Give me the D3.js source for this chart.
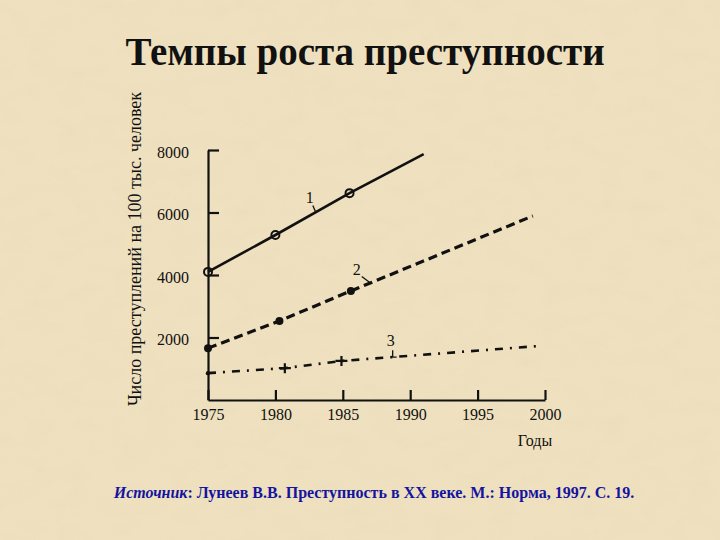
<!DOCTYPE html>
<html>
<head>
<meta charset="utf-8">
<script src="https://cdn.jsdelivr.net/npm/d3@7"></script>
<style>
  html, body { margin: 0; padding: 0; background: #ecdcb7; }
  svg { display: block; }
</style>
</head>
<body>
<div id="vis"></div>
<script>
//data----
const xTicks = [1975, 1980, 1985, 1990, 1995, 2000]
const yTicks = [2000, 4000, 6000, 8000]

// line 1 - solid, open circles
const years1 = [1975, 1980, 1985.5, 1991]
const values1 = [4100, 5280, 6620, 7870]
const markers1 = [true, true, true, false]

// line 2 - dashed, filled dots
const years2 = [1975, 1980.3, 1985.6, 1999.1]
const values2 = [1660, 2530, 3490, 5890]
const markers2 = [true, true, true, false]

// line 3 - dash-dot, crosses
const years3 = [1975, 1980.7, 1984.9, 1999.6]
const values3 = [860, 1020, 1250, 1730]
const markers3 = ["dot", "plus", "plus", null]

// series labels: number and the point on its line where the leader touches
const labelNames = ["1", "2", "3"]
const labelYears = [1983, 1987, 1988.7]
const labelValues = [6000, 3760, 1370]

const titleText = "Темпы роста преступности"
const yLabelText = "Число преступлений на 100 тыс. человек"
const xLabelText = "Годы"

//dimensions----
let dimensions = {
    width: 720,
    height: 540,
    margins: { left: 208, right: 175, top: 150, bottom: 140 },
}
dimensions.boundedwidth = dimensions.width - dimensions.margins.left - dimensions.margins.right
dimensions.boundedheight = dimensions.height - dimensions.margins.top - dimensions.margins.bottom

const serif = "'Liberation Serif', 'Times New Roman', serif"

//canvas----
const wrapper = d3.select("#vis")
    .append("svg")
    .attr("width", dimensions.width)
    .attr("height", dimensions.height)

// parchment texture
const defs = wrapper.append("defs")
const paper = defs.append("filter")
    .attr("id", "paper")
    .attr("x", 0).attr("y", 0).attr("width", "100%").attr("height", "100%")
paper.append("feTurbulence")
    .attr("type", "fractalNoise")
    .attr("baseFrequency", "0.035 0.06")
    .attr("numOctaves", 3)
    .attr("seed", 7)
paper.append("feColorMatrix")
    .attr("type", "matrix")
    .attr("values", "0 0 0 0 0.80  0 0 0 0 0.70  0 0 0 0 0.48  0 0 0 -0.9 0.55")

wrapper.append("rect")
    .attr("width", dimensions.width)
    .attr("height", dimensions.height)
    .attr("fill", "#efe1bf")
wrapper.append("rect")
    .attr("width", dimensions.width)
    .attr("height", dimensions.height)
    .attr("filter", "url(#paper)")
    .attr("opacity", 0.7)

const bounds = wrapper.append("g")
    .attr("transform", `translate(${dimensions.margins.left}, ${dimensions.margins.top})`)

//scales----
const xScale = d3.scaleLinear()
    .domain([1975, 2000])
    .range([0, dimensions.boundedwidth])

const yScale = d3.scaleLinear()
    .domain([0, 8000])
    .range([dimensions.boundedheight, 0])

//axes----
const xAxisgenerator = d3.axisBottom(xScale)
    .tickValues(xTicks)
    .tickFormat(d3.format("d"))
    .tickSizeInner(-10)
    .tickSizeOuter(0)
    .tickPadding(9)

const yAxisgenerator = d3.axisLeft(yScale)
    .tickValues(yTicks)
    .tickFormat(d3.format("d"))
    .tickSizeInner(-11)
    .tickSizeOuter(0)
    .tickPadding(19)

const xAxis = bounds.append("g")
    .attr("class", "x-axis")
    .attr("transform", `translate(0, ${dimensions.boundedheight})`)
    .call(xAxisgenerator)

const yAxis = bounds.append("g")
    .attr("class", "y-axis")
    .call(yAxisgenerator)

bounds.selectAll(".x-axis path, .y-axis path, .x-axis line, .y-axis line")
    .attr("stroke", "#111")
    .attr("stroke-width", 2.2)

bounds.selectAll(".x-axis text, .y-axis text")
    .attr("fill", "#111")
    .style("font-family", serif)
    .style("font-size", "16px")

yAxis.selectAll("text").attr("dy", "0.45em")

xAxis.append("text")
    .attr("x", xScale(2000) - 10)
    .attr("y", 46)
    .attr("fill", "#111")
    .style("font-family", serif)
    .style("font-size", "16px")
    .style("text-anchor", "middle")
    .text(xLabelText)

wrapper.append("text")
    .attr("transform", "translate(141, 249) rotate(-90)")
    .attr("fill", "#111")
    .style("font-family", serif)
    .style("font-size", "18px")
    .style("text-anchor", "middle")
    .text(yLabelText)

wrapper.append("text")
    .attr("x", 365)
    .attr("y", 65)
    .attr("fill", "#111")
    .style("font-family", serif)
    .style("font-size", "39px")
    .style("font-weight", "bold")
    .style("text-anchor", "middle")
    .text(titleText)

//lines----
const lineGen = d3.line()
    .x(d => xScale(d[0]))
    .y(d => yScale(d[1]))

const series = [
    { pts: d3.zip(years1, values1), dash: null, width: 2.6 },
    { pts: d3.zip(years2, values2), dash: "9,5", width: 3.2 },
    { pts: d3.zip(years3, values3), dash: "8,7,2,7", width: 2.6 },
]

bounds.selectAll(".series")
    .data(series)
    .enter().append("path")
    .attr("class", "series")
    .attr("d", d => lineGen(d.pts))
    .attr("fill", "none")
    .attr("stroke", "#111")
    .attr("stroke-width", d => d.width)
    .attr("stroke-dasharray", d => d.dash)

// markers line 1: open circles
bounds.selectAll(".m1")
    .data(d3.zip(years1, values1).filter((d, i) => markers1[i]))
    .enter().append("circle")
    .attr("cx", d => xScale(d[0]))
    .attr("cy", d => yScale(d[1]))
    .attr("r", 4)
    .attr("fill", "none")
    .attr("stroke", "#111")
    .attr("stroke-width", 2)

// markers line 2: filled dots
bounds.selectAll(".m2")
    .data(d3.zip(years2, values2).filter((d, i) => markers2[i]))
    .enter().append("circle")
    .attr("cx", d => xScale(d[0]))
    .attr("cy", d => yScale(d[1]))
    .attr("r", 4)
    .attr("fill", "#111")

// markers line 3
const pts3 = d3.zip(years3, values3, markers3).filter(d => d[2])
bounds.selectAll(".m3dot")
    .data(pts3.filter(d => d[2] === "dot"))
    .enter().append("circle")
    .attr("cx", d => xScale(d[0]))
    .attr("cy", d => yScale(d[1]))
    .attr("r", 2.2)
    .attr("fill", "#111")
bounds.selectAll(".m3plus")
    .data(pts3.filter(d => d[2] === "plus"))
    .enter().append("path")
    .attr("d", d => {
        const x = xScale(d[0]), y = yScale(d[1])
        return `M${x - 6},${y}H${x + 6}M${x},${y - 5}V${y + 5}`
    })
    .attr("stroke", "#111")
    .attr("stroke-width", 2.2)

//series labels with leaders----
const labelData = d3.zip(labelNames, labelYears, labelValues)
const leaderPaths = [
    (x, y) => `M${x},${y}L${x - 3},${y - 7}`,
    (x, y) => `M${x},${y}L${x - 8},${y - 6}`,
    (x, y) => `M${x + 4},${y}H${x}V${y - 7}`,
]
const labelOffsets = [[-6, -10], [-13, -8], [-2, -11]]

bounds.selectAll(".leader")
    .data(labelData)
    .enter().append("path")
    .attr("d", (d, i) => leaderPaths[i](xScale(d[1]), yScale(d[2])))
    .attr("fill", "none")
    .attr("stroke", "#111")
    .attr("stroke-width", 1.3)

bounds.selectAll(".label")
    .data(labelData)
    .enter().append("text")
    .attr("x", (d, i) => xScale(d[1]) + labelOffsets[i][0])
    .attr("y", (d, i) => yScale(d[2]) + labelOffsets[i][1])
    .attr("fill", "#111")
    .style("font-family", serif)
    .style("font-size", "16px")
    .style("text-anchor", "middle")
    .text(d => d[0])

//source----
const source = wrapper.append("text")
    .attr("x", 374)
    .attr("y", 498)
    .attr("fill", "#1414a0")
    .style("font-family", serif)
    .style("font-size", "16px")
    .style("font-weight", "bold")
    .style("text-anchor", "middle")
source.append("tspan").style("font-style", "italic").text("Источник")
source.append("tspan").text(": Лунеев В.В. Преступность в XX веке. М.: Норма, 1997. С. 19.")
</script>
</body>
</html>
